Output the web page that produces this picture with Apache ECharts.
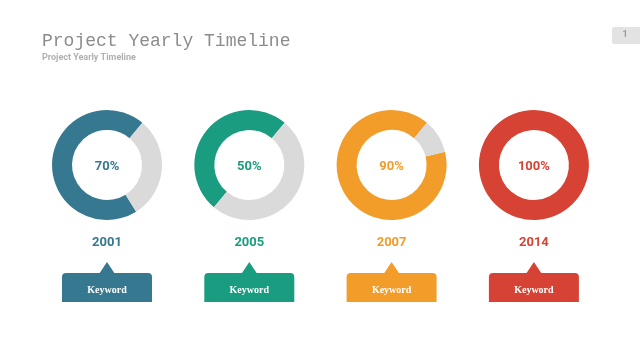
<!DOCTYPE html>
<html>
<head>
<meta charset="utf-8">
<script src="https://cdn.jsdelivr.net/npm/echarts@6/dist/echarts.min.js"></script>
<style>html,body{margin:0;padding:0;background:#fff}#c{width:640px;height:360px}</style>
</head>
<body>
<div id="c"></div>
<script>
var years = ['2001', '2005', '2007', '2014'];
var percents = [70, 50, 90, 100];
var keywords = ['Keyword', 'Keyword', 'Keyword', 'Keyword'];
var colors = ['#367890', '#1a9c80', '#f29c2a', '#d64334'];
var restColor = '#dadada';

var chart = echarts.init(document.getElementById('c'));
var cx0 = 107, dx = 142.3, cy = 165;
var series = [];
var graphic = [];
years.forEach(function (y, i) {
  var cx = cx0 + i * dx;
  series.push({
    type: 'pie',
    center: [cx, cy],
    radius: [35, 55],
    startAngle: 50,
    clockwise: false,
    silent: true,
    avoidLabelOverlap: false,
    stillShowZeroSum: true,
    minAngle: 0,
    emphasis: { disabled: true },
    labelLine: { show: false },
    data: [
      { value: percents[i], itemStyle: { color: colors[i] },
        label: { show: true, position: 'center', formatter: percents[i] + '%', offset: [0, 2],
          color: colors[i], fontFamily: 'Roboto', fontWeight: 'bold', fontSize: 13 } },
      { value: 100 - percents[i], itemStyle: { color: restColor }, label: { show: false } }
    ]
  });
  graphic.push({
    type: 'text', silent: true, x: cx, y: 243,
    style: { text: y, textAlign: 'center', textVerticalAlign: 'middle', fill: colors[i], font: 'bold 13px Roboto' }
  });
  graphic.push({
    type: 'rect', silent: true,
    shape: { x: cx - 45, y: 273, width: 90, height: 29, r: [4, 4, 0, 0] },
    style: { fill: colors[i] }
  });
  graphic.push({
    type: 'polygon', silent: true,
    shape: { points: [[cx - 8, 274], [cx, 262], [cx + 8, 274]] },
    style: { fill: colors[i] }
  });
  graphic.push({
    type: 'text', silent: true, x: cx, y: 290,
    style: { text: keywords[i], textAlign: 'center', textVerticalAlign: 'middle', fill: '#ffffff', font: 'bold 10px "Liberation Serif"' }
  });
});
graphic.push({
  type: 'rect', silent: true,
  shape: { x: 612, y: 27, width: 30, height: 17, r: 2 },
  style: { fill: '#e3e3e3' }
});
graphic.push({
  type: 'text', silent: true, x: 625, y: 35,
  style: { text: '1', textAlign: 'center', textVerticalAlign: 'middle', fill: '#999999', font: 'bold 9px Roboto' }
});

chart.setOption({
  animation: false,
  title: {
    text: 'Project Yearly Timeline',
    subtext: 'Project Yearly Timeline',
    left: 37, top: 27,
    itemGap: 3,
    textStyle: { fontFamily: '"Liberation Mono"', fontWeight: 'normal', fontSize: 18, color: '#8c8c8c' },
    subtextStyle: { fontFamily: 'Roboto', fontWeight: 'bold', fontSize: 9, color: '#b0b0b0' }
  },
  series: series,
  graphic: graphic
});
</script>
</body>
</html>
